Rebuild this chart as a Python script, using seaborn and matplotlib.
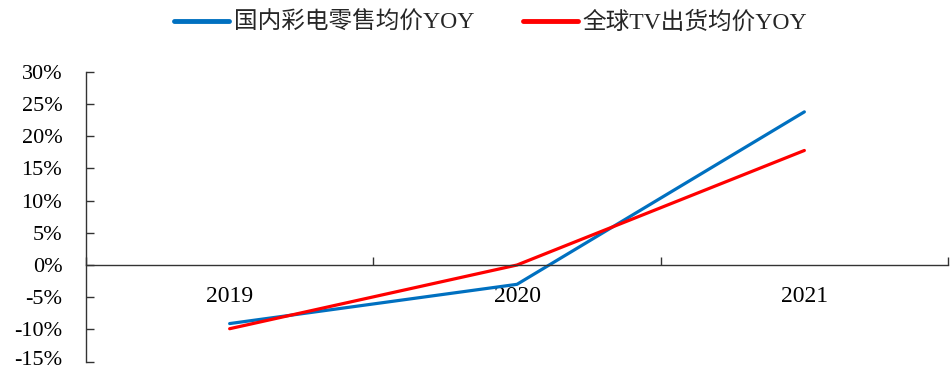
import matplotlib
matplotlib.use("Agg")
import matplotlib.pyplot as plt
import matplotlib.transforms as mtransforms
import seaborn as sns
import pandas as pd
from matplotlib.ticker import FuncFormatter, FixedLocator

sns.set_style("white")
plt.rcParams['font.family'] = ['Liberation Serif', 'Noto Sans CJK SC']

years = ["2019", "2020", "2021"]
series_names = ["国内彩电零售均价YOY", "全球TV出货均价YOY"]
domestic_yoy = [-9.1, -3.0, 23.8]
global_yoy = [-9.9, 0.0, 17.8]
colors = ["#0070C0", "#FF0000"]

df = pd.DataFrame({
    "year": list(range(len(years))) * 2,
    "value": domestic_yoy + global_yoy,
    "series": [series_names[0]] * 3 + [series_names[1]] * 3,
})

fig = plt.figure(figsize=(9.53, 3.71), dpi=100)
ax = fig.add_axes([0.0902, 0.0255, 0.9046, 0.7805])

sns.lineplot(data=df, x="year", y="value", hue="series", palette=colors,
             hue_order=series_names, linewidth=2.3, ax=ax, legend=True)

ax.set_xlim(-0.5, 2.5)
ax.set_ylim(-15, 30)
ax.set_yticks(range(-15, 31, 5))
ax.yaxis.set_major_formatter(FuncFormatter(lambda v, p: f"{int(v)}%"))
ax.tick_params(axis='y', left=True, direction='in', length=6, width=1, labelsize=16, pad=17,
               colors='#333333', labelcolor='black')

ax.xaxis.set_major_locator(FixedLocator([-0.5, 0.5, 1.5, 2.5]))
ax.xaxis.set_minor_locator(FixedLocator([0, 1, 2]))
ax.set_xticklabels([], minor=False)
ax.set_xticklabels(years, minor=True)
ax.tick_params(axis='x', which='major', bottom=True, direction='in', length=6, width=1, colors='#333333')
ax.tick_params(axis='x', which='minor', bottom=True, length=0, labelsize=17, pad=15, labelcolor='black')

ax.spines['bottom'].set_position(('data', 0))
for s in ['top', 'right']:
    ax.spines[s].set_visible(False)
for s in ['left', 'bottom']:
    ax.spines[s].set_color('#333333')
    ax.spines[s].set_linewidth(1)

ax.set_xlabel("")
ax.set_ylabel("")

# nudge the lowest y tick label up slightly so it stays inside the canvas
low_label = ax.yaxis.get_major_ticks()[0].label1
low_label.set_transform(mtransforms.offset_copy(low_label.get_transform(), fig=fig, y=4, units='dots'))

handles, labels = ax.get_legend_handles_labels()
ax.legend(handles, labels, loc='upper center', bbox_to_anchor=(0.515, 1.0), bbox_transform=fig.transFigure,
          ncol=2, frameon=False, fontsize=17, handlelength=2.3, handletextpad=0.2, columnspacing=2.1,
          borderaxespad=0.1)
for line in ax.get_legend().get_lines():
    line.set_linewidth(3.5)

fig.savefig("out.png", dpi=100)
